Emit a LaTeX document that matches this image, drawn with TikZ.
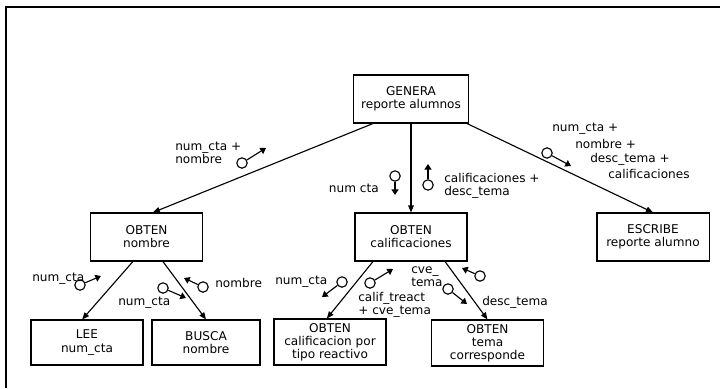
\documentclass[tikz,border=0pt]{standalone}
\usepackage{fontspec}
\setmainfont{DejaVu Sans}
\usetikzlibrary{arrows.meta}

\begin{document}
\begin{tikzpicture}[
        x=0.025cm, y=-0.025cm,
        font=\fontsize{8.6pt}{9.3pt}\selectfont,
        box/.style={rectangle, draw, line width=0.75pt, minimum width=2.8cm,
                    minimum height=1.2cm, align=center, inner sep=1pt},
        arrow/.style={-{Triangle[length=5pt, width=4pt]}, line width=0.8pt},
        couple/.style={circle, draw, fill=white, line width=0.8pt,
                       inner sep=0pt, minimum size=0.26cm},
        flow/.style={-{Triangle[length=4pt, width=5pt]}, line width=0.8pt},
        lbl/.style={inner sep=0pt, align=left}
    ]

    \useasboundingbox (0,0) rectangle (720,388);
    \draw[line width=0.8pt] (720,7) -- (6,7) -- (6,388);

    %% LEVEL 0
    \node[box, minimum width=2.875cm] (genera) at (411,99) {GENERA\\reporte alumnos};

    %% LEVEL 1
    \node[box] (obtnombre) at (146.5,237) {OBTEN\\nombre};
    \node[box] (obtcalif)  at (411,237)   {OBTEN\\calificaciones};
    \node[box] (escribe)   at (653,237)   {ESCRIBE\\reporte alumno};
    \draw[arrow] ([xshift=-0.95cm]genera.south) -- ([xshift=0.16cm]obtnombre.north);
    \draw[arrow] (genera.south) -- (obtcalif.north);
    \draw[arrow] ([xshift=-0.05cm]genera.south east) -- (escribe.north);

    %% LEVEL 2
    \node[box, minimum height=1.125cm] (lee)   at (87,342.5)  {LEE\\num\_cta};
    \node[box, minimum height=1.125cm, minimum width=2.7cm]
          (busca) at (206,342.5) {BUSCA\\nombre};
    \node[box, minimum height=1.15cm] (obtcalreact) at (330,342)
          {OBTEN\\calificacion por\\tipo reactivo};
    \node[box, minimum height=1.15cm] (obttema) at (487.5,343)
          {OBTEN\\tema\\corresponde};
    \draw[arrow] ([xshift=-0.34cm]obtnombre.south) -- ([xshift=-0.12cm]lee.north);
    \draw[arrow] ([xshift=0.41cm]obtnombre.south)  -- (busca.north);
    \draw[arrow] ([xshift=-0.95cm]obtcalif.south)  -- ([xshift=-0.08cm]obtcalreact.north);
    \draw[arrow] ([xshift=0.85cm]obtcalif.south)   -- (obttema.north);

    %% data couples: GENERA -> OBTEN nombre
    \node[couple] (c1) at (242,163) {};
    \coordinate (c1t) at (266,148);
    \draw[flow] (c1) -- (c1t);
    \node[lbl, anchor=west] at (175,153) {num\_cta +\\nombre};

    %% data couples: GENERA -> OBTEN calificaciones
    \node[couple] (c2) at (395,176) {};
    \coordinate (c2t) at (395,195);
    \draw[flow] (c2) -- (c2t);
    \node[lbl, anchor=east] at (379,188) {num cta};

    \node[couple] (c3) at (428,185) {};
    \coordinate (c3t) at (428,164);
    \draw[flow] (c3) -- (c3t);
    \node[lbl, anchor=west] at (444,186) {calificaciones +\\desc\_tema};

    %% data couples: GENERA -> ESCRIBE
    \node[couple] (c4) at (547,153) {};
    \coordinate (c4t) at (571,166);
    \draw[flow] (c4) -- (c4t);
    \node[lbl, anchor=west] at (552,129) {num\_cta +};
    \node[lbl, anchor=west] at (575,144) {nombre +};
    \node[lbl, anchor=west] at (590,159) {desc\_tema +};
    \node[lbl, anchor=west] at (608,174) {calificaciones};

    %% data couples: OBTEN nombre -> LEE, BUSCA
    \node[couple] (c5) at (80,285) {};
    \coordinate (c5t) at (101,276);
    \draw[flow] (c5) -- (c5t);
    \node[lbl, anchor=west] at (32,279) {num\_cta};

    \node[couple] (c6) at (163,288) {};
    \coordinate (c6t) at (186,298);
    \draw[flow] (c6) -- (c6t);
    \node[lbl, anchor=west] at (118,303) {num\_cta};

    \node[couple] (c7) at (203,287) {};
    \coordinate (c7t) at (184,278);
    \draw[flow] (c7) -- (c7t);
    \node[lbl, anchor=west] at (215,283) {nombre};

    %% data couples: OBTEN calificaciones -> OBTEN calif., OBTEN tema
    \node[couple] (c8) at (342,282) {};
    \coordinate (c8t) at (322,297);
    \draw[flow] (c8) -- (c8t);
    \node[lbl, anchor=west] at (275,282) {num\_cta};

    \node[couple] (c9) at (370,283) {};
    \coordinate (c9t) at (393,269);
    \draw[flow] (c9) -- (c9t);
    \node[lbl, anchor=west] at (358,305) {calif\_treact\\+ cve\_tema};

    \node[couple] (c10) at (448,289) {};
    \coordinate (c10t) at (467,304);
    \draw[flow] (c10) -- (c10t);
    \node[lbl, anchor=west] at (411,277) {cve\_\\tema};

    \node[couple] (c11) at (480,276) {};
    \coordinate (c11t) at (462,268);
    \draw[flow] (c11) -- (c11t);
    \node[lbl, anchor=west] at (482,302) {desc\_tema};

\end{tikzpicture}
\end{document}
